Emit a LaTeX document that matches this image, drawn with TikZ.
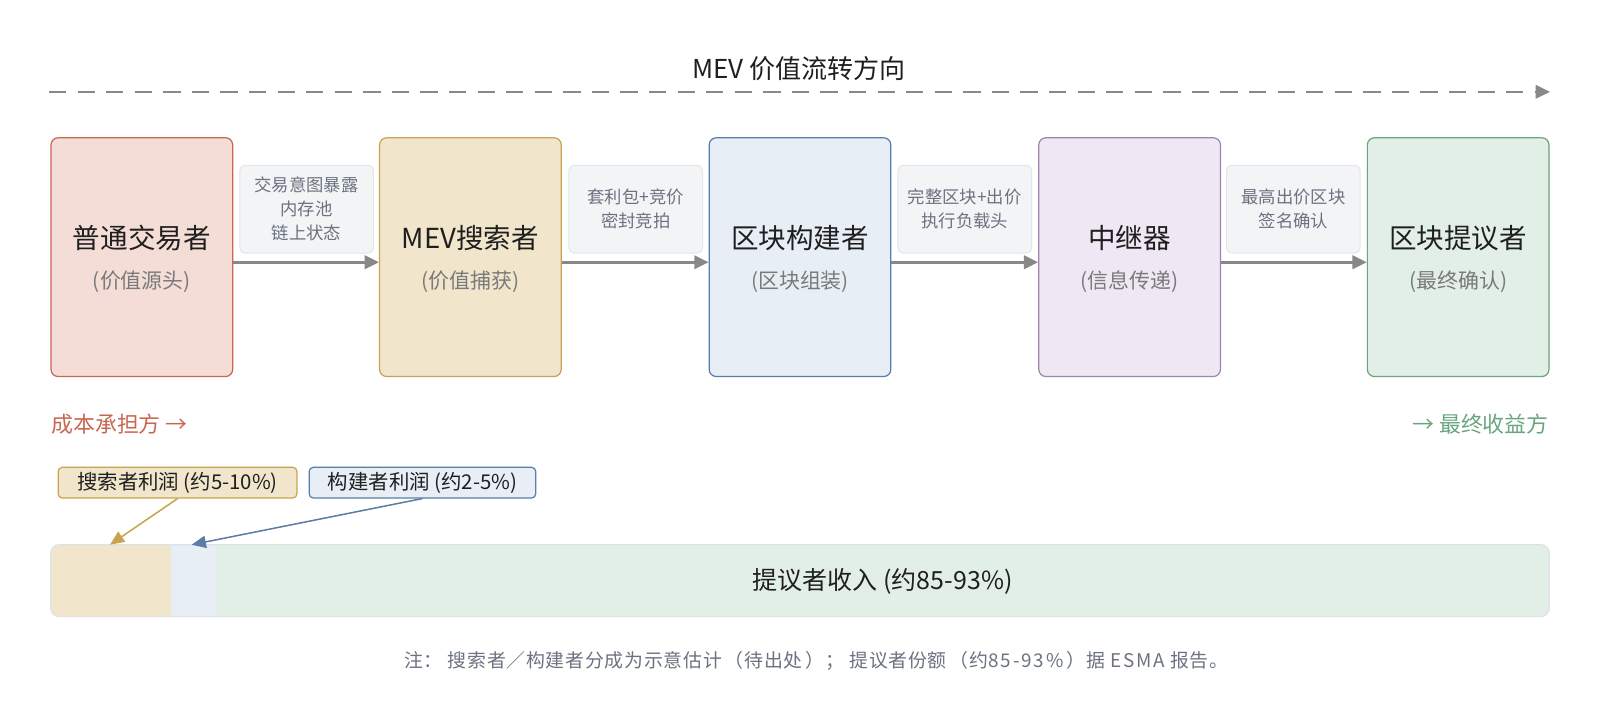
\documentclass[tikz,border=0pt]{standalone}
\usepackage{fontspec}
\setmainfont{Noto Sans CJK SC}
\newfontfamily\notels[LetterSpace=4]{Noto Sans CJK SC}
\newfontfamily\notelat[LetterSpace=10]{Noto Sans CJK SC}
\usetikzlibrary{arrows.meta,calc}
\definecolor{redS}{HTML}{C8674F}
\definecolor{redF}{HTML}{F4DDD6}
\definecolor{begS}{HTML}{C9A34F}
\definecolor{begF}{HTML}{F1E6CC}
\definecolor{bluS}{HTML}{5A7EA6}
\definecolor{bluF}{HTML}{E8EEF6}
\definecolor{purS}{HTML}{9D86AE}
\definecolor{purF}{HTML}{EFE7F3}
\definecolor{grnS}{HTML}{6AA57E}
\definecolor{grnF}{HTML}{E2EFE7}
\definecolor{lblF}{HTML}{F3F4F6}
\definecolor{lblS}{HTML}{E3E5E8}
\definecolor{lblT}{HTML}{6B7280}
\definecolor{arrC}{HTML}{888888}
\definecolor{mainT}{HTML}{1F1F1F}
\definecolor{subT}{HTML}{7A7A7A}
\definecolor{barS}{HTML}{DFE2E5}
\begin{document}
\begin{tikzpicture}[x=1pt,y=-1pt,
  mainbox/.style={draw, line width=1.2pt, rounded corners=7pt, minimum width=178pt, minimum height=234pt, inner sep=0pt},
  titletext/.style={text=mainT, font=\fontsize{27}{32}\selectfont, inner sep=0pt},
  subtext/.style={text=subT, font=\fontsize{20.5}{24}\selectfont, inner sep=0pt},
  lblbox/.style={draw=lblS, fill=lblF, line width=1pt, rounded corners=5pt, minimum width=131pt, minimum height=86pt, inner sep=0pt, align=center, text=lblT, font=\fontsize{17}{23.5}\selectfont},
  flow/.style={draw=arrC, line width=3pt, -{Triangle[length=14pt,width=13pt]}},
  callout/.style={rounded corners=4pt, line width=1.2pt, minimum height=30pt, inner xsep=0pt, inner ysep=0pt, text=mainT, font=\fontsize{20}{23}\selectfont},
  pointer/.style={line width=1.5pt, -{Triangle[length=14pt,width=12pt]}}
]
\useasboundingbox (0,0) rectangle (1568,703.6);
% title and direction arrow
\node[text=mainT, font=\fontsize{25.5}{29}\selectfont, inner sep=0pt] (title) at (783,67) {MEV 价值流转方向};
\coordinate (ds) at (48,90);
\coordinate (de) at (1519,90);
\draw[draw=arrC, line width=2.6pt, dash pattern=on 17pt off 11pt, -{Triangle[length=14pt,width=13pt]}] (ds) -- (de);
% main boxes
\node[mainbox, draw=redS, fill=redF] (b1) at (139,252) {};
\node[mainbox, draw=begS, fill=begF] (b2) at (461,252) {};
\node[mainbox, draw=bluS, fill=bluF] (b3) at (784,252) {};
\node[mainbox, draw=purS, fill=purF] (b4) at (1107,252) {};
\node[mainbox, draw=grnS, fill=grnF] (b5) at (1429,252) {};
\node[titletext] (t1) at (139,233) {普通交易者};
\node[subtext] (s1) at (139,276) {(价值源头)};
\node[titletext] (t2) at (461,233) {MEV搜索者};
\node[subtext] (s2) at (461,276) {(价值捕获)};
\node[titletext] (t3) at (784,233) {区块构建者};
\node[subtext] (s3) at (784,276) {(区块组装)};
\node[titletext] (t4) at (1107,233) {中继器};
\node[subtext] (s4) at (1107,276) {(信息传递)};
\node[titletext] (t5) at (1429,233) {区块提议者};
\node[subtext] (s5) at (1429,276) {(最终确认)};
% flow arrows
\draw[flow] ([yshift=-5pt]b1.east) -- ([yshift=-5pt]b2.west);
\draw[flow] ([yshift=-5pt]b2.east) -- ([yshift=-5pt]b3.west);
\draw[flow] ([yshift=-5pt]b3.east) -- ([yshift=-5pt]b4.west);
\draw[flow] ([yshift=-5pt]b4.east) -- ([yshift=-5pt]b5.west);
% labels
\node[lblbox] (l1) at (300.5,205) {交易意图暴露\\内存池\\链上状态};
\node[lblbox] (l2) at (623,205) {套利包+竞价\\密封竞拍};
\node[lblbox] (l3) at (945.5,205) {完整区块+出价\\执行负载头};
\node[lblbox] (l4) at (1267.5,205) {最高出价区块\\签名确认};
% side notes
\node[anchor=west, text=redS, font=\fontsize{21.5}{25}\selectfont, inner sep=0pt] (cost) at (50,416) {成本承担方 →};
\node[anchor=east, text=grnS, font=\fontsize{21.5}{25}\selectfont, inner sep=0pt] (gain) at (1518,416) {→ 最终收益方};
% callouts
\node[callout, draw=begS, fill=begF, minimum width=234pt] (c1) at (174,473) {搜索者利润 (约5-10\%)};
\node[callout, draw=bluS, fill=bluF, minimum width=222pt] (c2) at (414,473) {构建者利润 (约2-5\%)};
% bar
\node[draw=none, minimum width=1468pt, minimum height=70pt, inner sep=0pt] (bar) at (784,569) {};
\begin{scope}
\clip[rounded corners=8pt] (bar.north west) rectangle (bar.south east);
\fill[begF] (bar.north west) rectangle ($(bar.south west)+(118,0)$);
\fill[bluF] ($(bar.north west)+(118,0)$) rectangle ($(bar.south west)+(162,0)$);
\fill[grnF] ($(bar.north west)+(162,0)$) rectangle (bar.south east);
\end{scope}
\draw[barS, line width=1.2pt, rounded corners=8pt] (bar.north west) rectangle (bar.south east);
\node[text=mainT, font=\fontsize{24.5}{28}\selectfont, inner sep=0pt] (bart) at (865,570) {提议者收入 (约85-93\%)};
\coordinate (a1) at ($(bar.north west)+(58,0)$);
\coordinate (a2) at ($(bar.north west)+(138,0)$);
\draw[pointer, begS] (c1.south) -- (a1);
\draw[pointer, bluS] (c2.south) -- (a2);
% footnote
\node[text=lblT, font=\fontsize{18.5}{22}\selectfont\notels, inner sep=0pt] (note) at (800,648) {注：\hspace{5pt}搜索者／构建者分成为示意估计\hspace{3pt}（待出处\hspace{3pt}）；\hspace{5pt}提议者份额\hspace{3pt}（约{\notelat 85-93\%}\hspace{3pt}）据\hspace{5pt}{\notelat ESMA}\hspace{5pt}报告。};
\end{tikzpicture}
\end{document}
